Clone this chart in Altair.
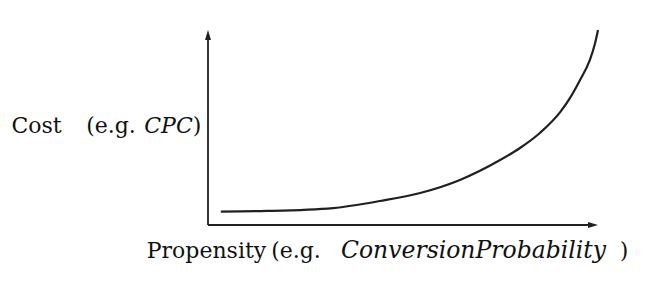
import altair as alt
import pandas as pd

# Curve data (propensity vs cost, arbitrary units 0-100)
propensity = [3.3, 15.1, 32.1, 44.1, 54.4, 64.6, 74.9, 80.0, 85.1, 90.3, 92.8, 95.4, 97.9, 99.2, 100.0]
cost = [6.9, 7.2, 8.7, 12.3, 16.4, 23.1, 33.3, 39.5, 47.2, 57.9, 65.1, 74.4, 84.6, 92.8, 100.0]

# Axis extents (data units)
axis_x_start = [0]
axis_x_end = [97.5]
axis_y_start = [0]
axis_y_end = [95]
arrow_x = [100]
arrow_y = [100]

# Axis label words: (text, italic)
y_label_words = [("Cost", False), ("(e.g.", False), ("CPC", True), (")", False)]
x_label_words = [("Propensity", False), ("(e.g.", False), ("ConversionProbability", True), (")", False)]

INK = "#231f20"
FONT = "DejaVu Serif"
FS = 22

xs = alt.Scale(domain=[0, 100], range=[208, 598], nice=False, zero=False)
ys = alt.Scale(domain=[0, 100], range=[225, 30], nice=False, zero=False)

curve_df = pd.DataFrame({"p": propensity, "c": cost})
curve = alt.Chart(curve_df).mark_line(
    color=INK, strokeWidth=2.2, interpolate="monotone"
).encode(
    x=alt.X("p:Q", scale=xs, axis=None),
    y=alt.Y("c:Q", scale=ys, axis=None),
)

xaxis_df = pd.DataFrame({"x0": axis_x_start, "x1": axis_x_end, "y": [0]})
xaxis = alt.Chart(xaxis_df).mark_rule(color=INK, strokeWidth=1.8).encode(
    x=alt.X("x0:Q", scale=xs, axis=None), x2="x1:Q",
    y=alt.Y("y:Q", scale=ys, axis=None),
)
yaxis_df = pd.DataFrame({"y0": axis_y_start, "y1": axis_y_end, "x": [0]})
yaxis = alt.Chart(yaxis_df).mark_rule(color=INK, strokeWidth=1.8).encode(
    y=alt.Y("y0:Q", scale=ys, axis=None), y2="y1:Q",
    x=alt.X("x:Q", scale=xs, axis=None),
)

arrow_up_df = pd.DataFrame({"x": [0], "y": arrow_y})
arrow_up = alt.Chart(arrow_up_df).mark_point(
    shape="M0,0L0.6,2L-0.6,2Z", size=100, filled=True, color=INK, opacity=1, strokeWidth=0
).encode(x=alt.X("x:Q", scale=xs, axis=None), y=alt.Y("y:Q", scale=ys, axis=None))

arrow_right_df = pd.DataFrame({"x": arrow_x, "y": [0]})
arrow_right = alt.Chart(arrow_right_df).mark_point(
    shape="M0,0L-2,-0.6L-2,0.6Z", size=100, filled=True, color=INK, opacity=1, strokeWidth=0
).encode(x=alt.X("x:Q", scale=xs, axis=None), y=alt.Y("y:Q", scale=ys, axis=None))

one_row = pd.DataFrame({"k": [0]})


def label(txt, x, y, italic=False, fs=FS):
    kw = dict(text=txt, font=FONT, fontSize=fs, color="#111111", align="center", baseline="alphabetic")
    if italic:
        kw["fontStyle"] = "italic"
    return alt.Chart(one_row).mark_text(**kw).encode(x=alt.value(x), y=alt.value(y))


y_centers = [36.5, 111, 168.5, 197]
y_sizes = [FS, FS, FS, FS]
x_centers = [206.5, 296, 473.5, 624]
x_sizes = [FS, FS, 23.5, FS]

labels = [label(t, cx, 133, it, s) for (t, it), cx, s in zip(y_label_words, y_centers, y_sizes)]
labels += [label(t, cx, 258, it, s) for (t, it), cx, s in zip(x_label_words, x_centers, x_sizes)]

chart = alt.layer(xaxis, yaxis, arrow_up, arrow_right, curve, *labels).properties(
    width=647, height=283, autosize=alt.AutoSizeParams(type="none"), padding=0,
    background="white",
).configure_view(stroke=None)

chart.save("out.html", embed_options={"renderer": "svg", "actions": False})
